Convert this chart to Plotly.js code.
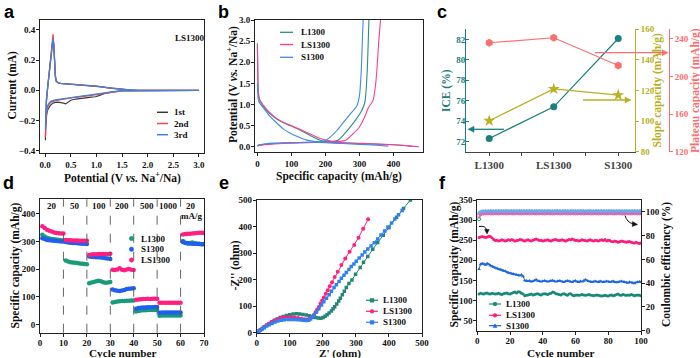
<!DOCTYPE html>
<html><head><meta charset="utf-8">
<script src="https://cdn.plot.ly/plotly-3.0.1.min.js"></script>
<style>html,body{margin:0;padding:0;background:#fff}#chart{width:700px;height:358px}</style>
</head><body><div id="chart"></div>
<script>
// ---------------- Panel a: CV of LS1300 ----------------
const cv1V = [3.0,2.5,2.0,1.7,1.5,1.3,1.15,1.05,0.98,0.9,0.8,0.7,0.6,0.5,0.44,0.4,0.36,0.3,0.25,0.2,0.15,0.1,0.07,0.05,0.03,0.02,0.01,0.005,0.008,0.015,0.025,0.05,0.08,0.11,0.135,0.155,0.17,0.185,0.2,0.215,0.25,0.3,0.5,0.7,0.9,1.1,1.3,1.5,1.7,2.2,3.0];
const cv1I = [0,0,0,0,-0.003,-0.012,-0.022,-0.035,-0.043,-0.045,-0.048,-0.053,-0.058,-0.066,-0.078,-0.09,-0.085,-0.08,-0.078,-0.08,-0.086,-0.1,-0.115,-0.13,-0.16,-0.2,-0.26,-0.33,-0.27,-0.15,-0.075,0.02,0.12,0.24,0.33,0.35,0.29,0.17,0.09,0.06,0.05,0.045,0.04,0.036,0.031,0.022,0.013,0.006,0.002,0,0];
const cvV23 = [3.0,2.5,2.0,1.7,1.5,1.3,1.1,1.0,0.8,0.6,0.45,0.3,0.2,0.12,0.08,0.05,0.03,0.015,0.005,0.008,0.015,0.025,0.05,0.08,0.11,0.135,0.155,0.17,0.185,0.2,0.215,0.25,0.3,0.5,0.8,1.0,1.2,1.4,1.6,1.8,2.2,2.6,3.0];
const cv2I = [0,0,0,0,-0.004,-0.013,-0.024,-0.03,-0.038,-0.046,-0.055,-0.062,-0.068,-0.078,-0.09,-0.11,-0.15,-0.21,-0.31,-0.25,-0.14,-0.07,0.02,0.13,0.25,0.35,0.37,0.29,0.17,0.09,0.06,0.05,0.045,0.04,0.033,0.027,0.018,0.009,0.003,0.0,0,0,0];
const cv3I = [0,0,0,0,-0.003,-0.011,-0.02,-0.026,-0.034,-0.041,-0.05,-0.057,-0.063,-0.072,-0.083,-0.1,-0.13,-0.18,-0.26,-0.21,-0.12,-0.06,0.02,0.12,0.23,0.32,0.34,0.3,0.18,0.1,0.065,0.052,0.046,0.041,0.034,0.028,0.019,0.01,0.004,0.001,0,0,0];
const cvNames = ['1st','2nd','3rd'];

// ---------------- Panel b: charge/discharge ----------------
const bL_disCap = [0,1,2,4,7,12,20,35,57,80,106,125,146,165,185,209,240,300,350,400,440,455];
const bL_disV   = [2.45,2.0,1.4,1.2,1.1,1.02,0.93,0.8,0.66,0.56,0.47,0.4,0.31,0.23,0.16,0.12,0.1,0.08,0.065,0.05,0.03,0.015];
const bLS_disCap = [0,1,2,4,7,12,20,35,57,80,106,125,146,165,185,209,240,300,350,400,440,475];
const bLS_disV   = [2.4,1.9,1.4,1.22,1.12,1.05,0.96,0.82,0.67,0.57,0.48,0.42,0.34,0.27,0.2,0.15,0.11,0.085,0.07,0.05,0.03,0.005];
const bS_disCap = [0,1,2,4,7,12,20,35,50,77,100,116,145,175,200,250,300,350,385];
const bS_disV   = [1.5,1.3,1.15,1.08,1.03,0.98,0.9,0.74,0.62,0.42,0.31,0.25,0.16,0.12,0.1,0.08,0.06,0.04,0.02];
const bL_chgCap = [0,5,20,50,100,150,200,220,237,255,272,290,306,316,321,324,326,328];
const bL_chgV   = [0.02,0.04,0.06,0.08,0.1,0.11,0.12,0.13,0.16,0.3,0.46,0.65,0.85,1.05,1.5,2.0,2.5,3.0];
const bLS_chgCap = [0,5,20,50,100,150,200,240,260,280,299,315,326,340,348,353,357,362];
const bLS_chgV   = [0.02,0.04,0.05,0.07,0.09,0.1,0.11,0.13,0.16,0.3,0.46,0.7,0.92,1.1,1.5,2.0,2.5,3.0];
const bS_chgCap = [0,5,20,50,100,150,180,200,214,235,253,272,292,300,304,307,309,311];
const bS_chgV   = [0.03,0.05,0.07,0.09,0.1,0.11,0.12,0.15,0.23,0.4,0.58,0.77,0.96,1.2,1.6,2.1,2.6,3.0];

// ---------------- Panel c ----------------
const samples = ['L1300','LS1300','S1300'];
const iceVals = [72.3,75.4,82.1];
const slopeVals = [100.2,121.0,117.0];
const plateauVals = [235.7,241.0,211.5];

// ---------------- Panel d: rate ----------------
const dL1300 = [325,318,314,311,309,308,307,306,305,304, 231,228,225,224,223,222,221,220,219,218, 149,152,154,156,158,156,153,151,152,154, 79,81,83,84,85,85,86,86,87,87, 47,49,50,51,51,52,52,52,52,53, 31,32,32,32,32,32,32,32,32,32, 302,296,295,295,297,294,293,292,290,291];
const dS1300 = [312,309,306,305,304,303,302,301,300,300, 298,297,296,295,295,294,293,292,292,291, 246,245,244,243,243,242,241,240,239,237, 126,124,122,121,123,125,128,129,130,131, 57,59,60,61,61,62,62,62,63,63, 42,43,43,43,43,43,43,43,43,43, 298,295,293,293,292,292,291,291,290,290];
const dLS1300 = [355,349,343,339,336,333,331,330,329,329, 306,305,305,304,304,304,303,303,303,303, 251,253,254,254,255,255,255,255,255,256, 198,197,199,203,198,196,199,201,198,197, 89,90,91,92,92,93,92,93,93,93, 78,78,78,78,78,78,78,78,78,78, 326,327,328,328,329,330,331,332,332,331];
const rateLabels = ['20','50','100','200','500','1000','20'];
const rateLabelCycles = [5,15,25,35,45.5,55,64.5];
const rateBoundaries = [10,20,30,40,50,60];

// ---------------- Panel e: EIS ----------------
const eL_re = [2,6,11,17,23,30,37,45,53,62,71,80,90,100,110,120,130,140,150,160,170,178,186,194,201,207,213,219,226,231,236,242,248,253,259,265,271,279,288,299,313,323,336,351,366,383,400,423,444,465];
const eL_im = [0,5,10,16,22,28,34,40,46,52,57,61,65,68,70,71,70,69,67,64,60,57,55,54,57,62,68,74,82,90,98,108,119,130,143,156,170,185,199,220,246,265,287,314,340,367,395,435,468,500];
const eLS_re = [2,6,11,17,23,30,38,46,55,64,74,84,95,105,115,125,135,143,150,157,163,168,173,178,183,188,193,198,203,209,215,221,228,236,245,256,268,281,295,308,322,337];
const eLS_im = [0,5,10,16,22,28,35,41,47,52,55,57,58,58,57,55,53,51,50,51,54,58,67,77,87,97,110,121,133,147,160,175,190,210,230,255,280,305,330,358,392,427];
const eS_re = [2,6,11,17,23,30,38,46,55,64,74,84,95,105,115,125,135,143,150,157,163,168,174,181,188,196,203,211,219,226,234,241,249,256,264,271,279,286,294,301,310,319,327,336,346,356,366,376,387,397,408,418,429,440];
const eS_im = [0,4,9,14,19,25,30,35,40,44,47,49,50,50,50,49,48,47,46,47,52,58,66,78,90,104,117,130,143,156,170,181,193,205,216,227,238,249,259,269,281,293,304,315,327,339,353,368,383,398,413,428,444,460];

// ---------------- Panel f: cycling ----------------
const fL1300 = [116,118,117,116,118,119,117,116,118,117, 116,117,118,116,115,117,118,119,117,116, 118,120,121,119,122,121,118,116,112,113, 114,115,116,114,115,116,117,115,114,116, 117,116,115,117,118,121,120,117,116,115, 114,116,117,115,113,116,117,114,112,113, 114,113,114,115,114,113,114,115,114,113, 112,113,114,113,112,111,112,113,112,111, 113,114,112,113,115,116,114,113,115,114, 113,114,113,115,114,112,113,114,113,112];
const fLS1300 = [257,258,259,258,257,258,260,259,256,252, 249,250,248,249,251,250,248,249,251,250, 252,250,248,249,250,252,251,249,248,250, 251,249,248,250,252,253,251,249,250,248, 249,250,251,249,248,250,251,252,250,249, 250,251,249,248,250,252,251,253,251,249, 250,248,249,251,250,249,248,250,251,249, 248,250,249,248,250,251,249,252,248,250, 249,247,246,248,247,245,246,248,247,246, 245,246,247,245,244,243,245,243,242,243];
const fS1300 = [178,190,192,191,189,192,190,187,185,183, 181,180,178,177,176,174,173,171,169,168, 167,166,165,164,163,162,164,160,150,149, 148,149,147,148,150,152,149,148,147,148, 149,148,147,148,149,150,148,147,148,149, 148,147,146,148,149,148,147,146,148,149, 147,146,148,147,149,152,150,148,147,146, 147,148,147,146,148,147,146,147,148,147, 146,147,148,146,145,146,147,148,147,146, 145,144,146,145,144,143,145,146,147,146];
const ceL1300 = [94.0,98.6,99.3,99.5,99.6,99.7,99.8,99.8,99.9,99.8, 99.9,99.8,99.9,100.0,99.9,99.8,99.9,100.0,99.9,99.9, 99.8,99.9,100.0,99.9,99.8,99.9,99.9,100.0,99.9,99.8, 99.9,100.0,99.9,99.9,99.8,99.9,100.0,99.9,99.9,99.8, 99.9,99.9,100.0,99.9,99.8,99.9,99.9,100.0,99.9,99.9, 99.8,99.9,100.0,99.9,99.9,99.8,99.9,100.0,99.9,99.9, 99.9,99.8,99.9,100.0,99.9,99.9,99.8,99.9,100.0,99.9, 99.9,99.8,99.9,99.9,100.0,99.9,99.8,99.9,99.9,100.0, 99.9,99.9,99.8,99.9,100.0,99.9,99.9,99.8,99.9,99.9, 100.0,99.9,99.8,99.9,99.9,100.0,99.9,99.9,99.8,99.9];
const ceLS1300 = [97.0,98.4,98.8,98.9,99.0,99.0,99.1,99.0,98.9,99.0, 99.1,99.0,98.9,99.0,99.1,99.0,99.0,98.9,99.0,99.1, 99.0,98.9,99.0,99.1,99.0,99.0,98.9,99.0,99.1,99.0, 99.0,98.9,99.0,99.1,99.0,98.9,99.0,99.0,99.1,99.0, 98.9,99.0,99.1,99.0,99.0,98.9,99.0,99.1,99.0,99.0, 98.9,99.0,99.1,99.0,98.9,99.0,99.0,99.1,99.0,98.9, 99.0,99.1,99.0,99.0,98.9,99.0,99.1,99.0,99.0,98.9, 99.0,99.1,99.0,98.9,99.0,99.0,99.1,99.0,98.9,99.0, 99.0,99.1,99.0,98.9,99.0,99.1,99.0,99.0,98.9,99.0, 99.1,99.0,99.0,98.9,99.0,99.1,99.0,98.9,99.0,99.0];
const ceS1300 = [99.2,100.2,100.4,100.5,100.6,100.5,100.6,100.7,100.6,100.5, 100.6,100.7,100.6,100.5,100.6,100.6,100.7,100.6,100.5,100.6, 100.7,100.6,100.5,100.6,100.6,100.7,100.6,100.5,100.6,100.7, 100.6,100.5,100.6,100.6,100.7,100.6,100.5,100.6,100.7,100.6, 100.6,100.5,100.6,100.7,100.6,100.6,100.5,100.6,100.7,100.6, 100.5,100.6,100.6,100.7,100.6,100.5,100.6,100.7,100.6,100.6, 100.5,100.6,100.7,100.6,100.6,100.5,100.6,100.7,100.6,100.5, 100.6,100.6,100.7,100.6,100.5,100.6,100.7,100.6,100.6,100.5, 100.6,100.7,100.6,100.5,100.6,100.6,100.7,100.6,100.5,100.6, 100.7,100.6,100.6,100.5,100.6,100.7,100.6,100.5,100.6,100.6];

// ---------------- styling ----------------
const W = 700, H = 358;
const M = {l: 20, r: 20, t: 20, b: 20};
const PW = W - M.l - M.r, PH = H - M.t - M.b;
const SERIF = 'Liberation Serif, Times New Roman, serif';
const SANS = 'Liberation Sans, Arial, sans-serif';
const C_ICE = '#1c8080', C_SLOPE = '#b9b022', C_PLAT = '#ff6e6e';
const px = v => (v - M.l) / PW, py = v => 1 - (v - M.t) / PH;
const cycD = dL1300.map((_, i) => i + 1);
const cycF = fL1300.map((_, i) => i + 1);

function ax(o) {
  const col = o.color || '#222';
  const a = {
    domain: o.domain, range: o.range, anchor: o.anchor, showline: true, linecolor: col, linewidth: 1,
    mirror: o.mirror === undefined ? true : o.mirror, ticks: o.ticks || 'outside', ticklen: 3, tickwidth: 1, tickcolor: col,
    showgrid: false, zeroline: false, automargin: false,
    tickfont: {family: SERIF, size: o.tfs || 9, weight: 'bold', color: o.color || '#111'}
  };
  ['dtick','tick0','tickformat','tickvals','ticktext','side','overlaying','position','tickmode','minor','ticklabelstandoff'].forEach(k => { if (o[k] !== undefined) a[k] = o[k]; });
  return a;
}

const traces = [];
// a
const cvColors = ['#3a3a3a', '#f0454d', '#3f82e0'];
traces.push({x: cv1V, y: cv1I, xaxis: 'x', yaxis: 'y', mode: 'lines', line: {color: cvColors[0], width: 1.2}});
traces.push({x: cvV23, y: cv2I, xaxis: 'x', yaxis: 'y', mode: 'lines', line: {color: cvColors[1], width: 1.3}});
traces.push({x: cvV23, y: cv3I, xaxis: 'x', yaxis: 'y', mode: 'lines', line: {color: cvColors[2], width: 1.3}});
// b
const bCols = ['#2a8f80', '#ff3d8e', '#3d8af5'];
[[bL_disCap, bL_disV, bL_chgCap, bL_chgV], [bLS_disCap, bLS_disV, bLS_chgCap, bLS_chgV], [bS_disCap, bS_disV, bS_chgCap, bS_chgV]].forEach((s, i) => {
  traces.push({x: s[0], y: s[1], xaxis: 'x2', yaxis: 'y2', mode: 'lines', line: {color: bCols[i], width: 1.1, shape: 'spline', smoothing: 0.6}});
  traces.push({x: s[2], y: s[3], xaxis: 'x2', yaxis: 'y2', mode: 'lines', line: {color: bCols[i], width: 1.1, shape: 'spline', smoothing: 0.6}});
});
// c
const cx = [0, 1, 2];
traces.push({x: cx, y: plateauVals, xaxis: 'x3', yaxis: 'y5', mode: 'lines+markers', line: {color: C_PLAT, width: 1.2}, marker: {symbol: 'hexagon', size: 8, color: C_PLAT}});
traces.push({x: cx, y: slopeVals, xaxis: 'x3', yaxis: 'y4', mode: 'lines+markers', line: {color: C_SLOPE, width: 1.2}, marker: {symbol: 'star', size: 9, color: C_SLOPE}});
traces.push({x: cx, y: iceVals, xaxis: 'x3', yaxis: 'y3', mode: 'lines+markers', line: {color: C_ICE, width: 1.2}, marker: {symbol: 'circle', size: 7, color: C_ICE}});
// d
const dCols = ['#169c78', '#1f5ff0', '#ff1f80'];
[dL1300, dS1300, dLS1300].forEach((s, i) => traces.push({x: cycD, y: s, xaxis: 'x4', yaxis: 'y6', mode: 'markers', marker: {size: 4.5, color: dCols[i]}}));
// e
const eCols = ['#22877a', '#ff2080', '#2f80f0'];
traces.push({x: eL_re, y: eL_im, xaxis: 'x5', yaxis: 'y7', mode: 'lines+markers', line: {color: eCols[0], width: 1}, marker: {symbol: 'square', size: 3.5, color: eCols[0]}});
traces.push({x: eLS_re, y: eLS_im, xaxis: 'x5', yaxis: 'y7', mode: 'lines+markers', line: {color: eCols[1], width: 1}, marker: {symbol: 'circle', size: 4, color: eCols[1]}});
traces.push({x: eS_re, y: eS_im, xaxis: 'x5', yaxis: 'y7', mode: 'lines+markers', line: {color: eCols[2], width: 1}, marker: {symbol: 'square', size: 3.5, color: eCols[2]}});
// f
const fCols = ['#17897a', '#ff1a7c', '#1e66e0'];
traces.push({x: cycF, y: ceL1300, xaxis: 'x6', yaxis: 'y9', mode: 'lines+markers', line: {color: '#2aa08e', width: 0.8}, marker: {symbol: 'circle-open', size: 3.5, color: '#2aa08e'}});
traces.push({x: cycF, y: ceLS1300, xaxis: 'x6', yaxis: 'y9', mode: 'lines+markers', line: {color: '#ff5aa8', width: 0.8}, marker: {symbol: 'circle-open', size: 3.5, color: '#ff5aa8'}});
traces.push({x: cycF, y: ceS1300, xaxis: 'x6', yaxis: 'y9', mode: 'lines+markers', line: {color: '#6aaaf5', width: 0.8}, marker: {symbol: 'triangle-up-open', size: 3.5, color: '#6aaaf5'}});
traces.push({x: cycF, y: fL1300, xaxis: 'x6', yaxis: 'y8', mode: 'lines+markers', line: {color: fCols[0], width: 1}, marker: {symbol: 'circle', size: 3, color: fCols[0]}});
traces.push({x: cycF, y: fLS1300, xaxis: 'x6', yaxis: 'y8', mode: 'lines+markers', line: {color: fCols[1], width: 1}, marker: {symbol: 'circle', size: 3, color: fCols[1]}});
traces.push({x: cycF, y: fS1300, xaxis: 'x6', yaxis: 'y8', mode: 'lines+markers', line: {color: fCols[2], width: 1}, marker: {symbol: 'triangle-up', size: 3.5, color: fCols[2]}});

const layout = {
  width: W, height: H, margin: M, paper_bgcolor: '#fff', plot_bgcolor: 'rgba(0,0,0,0)', showlegend: false,
  font: {family: SERIF},
  xaxis: ax({domain: [px(40), px(204)], range: [-0.1, 3.1], anchor: 'y', dtick: 0.5, tickformat: '.1f'}),
  yaxis: ax({domain: [py(153), py(17)], range: [-0.415, 0.465], anchor: 'x', dtick: 0.2, tickformat: '.1f', ticklabelstandoff: -1}),
  xaxis2: ax({domain: [px(255), px(423)], range: [-7, 487], anchor: 'y2', dtick: 100}),
  yaxis2: ax({domain: [py(152), py(17)], range: [-0.12, 3.0], anchor: 'x2', dtick: 0.5, tickformat: '.1f', ticklabelstandoff: -1}),
  xaxis3: ax({domain: [px(466), px(635)], range: [-0.36, 2.26], anchor: 'y3', mirror: false, color: '#444', tickvals: [0, 1, 2], ticktext: samples, tfs: 11, minor: {tickvals: [0.5, 1.5], ticks: 'outside', ticklen: 3, tickcolor: '#444'}}),
  yaxis3: ax({domain: [py(151.7), py(29.3)], range: [71, 83], anchor: 'x3', mirror: false, color: C_ICE, dtick: 2, ticks: 'inside', ticklabelstandoff: -2}),
  yaxis4: ax({range: [80, 160], anchor: 'x3', overlaying: 'y3', side: 'right', mirror: false, color: C_SLOPE, dtick: 20}),
  yaxis5: ax({range: [120, 250], anchor: 'free', overlaying: 'y3', side: 'right', position: px(669), mirror: false, color: C_PLAT, tickvals: [120, 160, 200, 240]}),
  xaxis4: ax({domain: [px(40), px(204)], range: [0, 70], anchor: 'y6', dtick: 10, ticklabelstandoff: -2}),
  yaxis6: ax({domain: [py(332.7), py(199.3)], range: [-30, 453], anchor: 'x4', dtick: 100, ticklabelstandoff: -1}),
  xaxis5: ax({domain: [px(256.7), px(422)], range: [0, 500], anchor: 'y7', dtick: 100, ticklabelstandoff: -2}),
  yaxis7: ax({domain: [py(332.7), py(200)], range: [0, 500], anchor: 'x5', dtick: 100, ticklabelstandoff: -1}),
  xaxis6: ax({domain: [px(477.3), px(641)], range: [0, 100], anchor: 'y8', dtick: 20, ticklabelstandoff: -2}),
  yaxis8: ax({domain: [py(330.7), py(200)], range: [25, 350], anchor: 'x6', mirror: false, tickvals: [50, 100, 150, 200, 250, 300, 350], ticklabelstandoff: -1}),
  yaxis9: ax({range: [0, 110], anchor: 'x6', overlaying: 'y8', side: 'right', mirror: false, tickvals: [0, 20, 40, 60, 80, 100], ticklabelstandoff: -1}),
  shapes: [], annotations: []
};

// axis titles as annotations: [text, x px, y px, angle, colour, size]
const potTitle = 'Potential (V <i>vs.</i> Na<sup>+</sup>/Na)';
const axisTitles = [
  [potTitle, 122, 177, 0, '#111', 11.5], ['Current (mA)', 11.5, 85, -90, '#111', 11.5],
  ['Specific capacity (mAh/g)', 339, 176, 0, '#111', 11.5], [potTitle, 232.5, 84.5, -90, '#111', 11.5],
  ['ICE (%)', 446.5, 90.5, -90, C_ICE, 11.5], ['Slope capacity (mAh/g)', 657, 90.5, -90, C_SLOPE, 11.5], ['Plateau capacity (mAh/g)', 695.5, 90.5, -90, C_PLAT, 11.5],
  ['Cycle number', 122, 353, 0, '#111', 11.2], ['Specific capacity (mAh/g)', 14.5, 266, -90, '#111', 11.5],
  ["Z' (ohm)", 340, 353, 0, '#111', 11.2], ["-Z'' (ohm)", 234.5, 266, -90, '#111', 11.5],
  ['Cycle number', 560, 352.5, 0, '#111', 11.2], ['Specific capacity (mAh/g)', 453.5, 265, -90, '#111', 11.5], ['Coulombic efficiency (%)', 666, 265, -90, '#111', 11.5]
];
axisTitles.forEach(t => layout.annotations.push({xref: 'paper', yref: 'paper', x: px(t[1]), y: py(t[2]), xanchor: 'center', yanchor: 'middle', textangle: t[3], text: t[0], showarrow: false, font: {family: SERIF, size: t[5], weight: 'bold', color: t[4]}}));

// dashed rate boundaries in d
rateBoundaries.forEach(c => layout.shapes.push({type: 'line', xref: 'x4', yref: 'y6 domain', x0: c, x1: c, y0: 0, y1: 1, line: {color: '#555', width: 0.9, dash: 'dash'}}));
rateLabels.forEach((t, i) => layout.annotations.push({xref: 'x4', yref: 'y6', x: rateLabelCycles[i], y: 429, text: t, showarrow: false, font: {family: SERIF, size: 9, weight: 'bold', color: '#111'}}));
layout.annotations.push({xref: 'x4', yref: 'y6', x: 64.5, y: 393, text: 'mA/g', showarrow: false, font: {family: SERIF, size: 9, weight: 'bold', color: '#111'}});

// panel letters
const letters = [['a', 2, 0], ['b', 216, 0], ['c', 435, 0], ['d', 1, 171], ['e', 217, 171], ['f', 437, 171]];
letters.forEach(l => layout.annotations.push({xref: 'paper', yref: 'paper', x: px(l[1]), y: py(l[2]), xanchor: 'left', yanchor: 'top', text: l[0], showarrow: false, font: {family: SANS, size: 18, weight: 'bold', color: '#000'}}));

// text in a
layout.annotations.push({xref: 'paper', yref: 'paper', x: px(173), y: py(31), text: 'LS1300', showarrow: false, font: {family: SERIF, size: 9, weight: 'bold', color: '#111'}});

// manual legends
function legText(x, y, t) { layout.annotations.push({xref: 'paper', yref: 'paper', x: px(x), y: py(y), xanchor: 'left', yanchor: 'middle', text: t, showarrow: false, font: {family: SERIF, size: 9, weight: 'bold', color: '#111'}}); }
function legLine(x0, x1, y, c, w) { layout.shapes.push({type: 'line', xref: 'paper', yref: 'paper', x0: px(x0), x1: px(x1), y0: py(y), y1: py(y), line: {color: c, width: w || 1.3}}); }
function pathOf(pts, close) { return pts.map((p, i) => (i ? 'L ' : 'M ') + px(p[0]) + ' ' + py(p[1])).join(' ') + (close ? ' Z' : ''); }
function legMark(cx, cy, r, c, sym) {
  if (sym === 'circle') layout.shapes.push({type: 'circle', xref: 'paper', yref: 'paper', x0: px(cx - r), x1: px(cx + r), y0: py(cy + r), y1: py(cy - r), fillcolor: c, line: {color: c, width: 0.5}});
  else if (sym === 'square') layout.shapes.push({type: 'rect', xref: 'paper', yref: 'paper', x0: px(cx - r), x1: px(cx + r), y0: py(cy + r), y1: py(cy - r), fillcolor: c, line: {color: c, width: 0.5}});
  else layout.shapes.push({type: 'path', xref: 'paper', yref: 'paper', path: pathOf([[cx - r, cy + r], [cx + r, cy + r], [cx, cy - r]], true), fillcolor: c, line: {color: c, width: 0.5}});
}
[112.3, 123.5, 134.7].forEach((y, i) => { legLine(157, 168, y, cvColors[i], 1.5); legText(172, y, cvNames[i]); });
const bNames = ['L1300', 'LS1300', 'S1300'];
[32.3, 44.5, 57.3].forEach((y, i) => { legLine(280, 293, y, bCols[i], 1.3); legText(299, y, bNames[i]); });
const dNames = ['L1300', 'S1300', 'LS1300'];
[238.5, 249.3, 260].forEach((y, i) => { legMark(131.5, y, 2.2, dCols[i], 'circle'); legText(139, y, dNames[i]); });
const eNames = ['L1300', 'LS1300', 'S1300'];
const eSyms = ['square', 'circle', 'square'];
[300.3, 311.3, 322.3].forEach((y, i) => { legLine(366, 378, y, eCols[i], 1.2); legMark(372, y, 1.9, eCols[i], eSyms[i]); legText(381, y, eNames[i]); });
const fNames = ['L1300', 'LS1300', 'S1300'];
const fSyms = ['circle', 'circle', 'triangle'];
[304, 315.3, 325.7].forEach((y, i) => { legLine(489, 501, y, fCols[i], 1.2); legMark(495, y, 1.9, fCols[i], fSyms[i]); legText(504, y, fNames[i]); });

// arrows drawn as shapes (line + head)
function hArrow(x0, x1, y, c) {
  const dir = x1 > x0 ? 1 : -1;
  layout.shapes.push({type: 'line', xref: 'paper', yref: 'paper', x0: px(x0), x1: px(x1 - dir * 5), y0: py(y), y1: py(y), line: {color: c, width: 1.3}});
  layout.shapes.push({type: 'path', xref: 'paper', yref: 'paper', path: pathOf([[x1, y], [x1 - dir * 6, y - 3], [x1 - dir * 6, y + 3]], true), fillcolor: c, line: {color: c, width: 0.5}});
}
hArrow(504, 468, 129.3, C_ICE);
hArrow(583, 631, 100, C_SLOPE);
hArrow(595, 668, 52.7, C_PLAT);
layout.shapes.push({type: 'path', xref: 'paper', yref: 'paper', path: `M ${px(479)} ${py(226.5)} Q ${px(485.5)} ${py(225.3)} ${px(486.6)} ${py(230)}`, line: {color: '#111', width: 1}});
layout.shapes.push({type: 'path', xref: 'paper', yref: 'paper', path: pathOf([[487, 234], [484.6, 229.6], [489.2, 229.4]], true), fillcolor: '#111', line: {color: '#111', width: 0.5}});
layout.shapes.push({type: 'path', xref: 'paper', yref: 'paper', path: `M ${px(625)} ${py(215.5)} Q ${px(627)} ${py(222.5)} ${px(633)} ${py(223.8)}`, line: {color: '#111', width: 1}});
layout.shapes.push({type: 'path', xref: 'paper', yref: 'paper', path: pathOf([[637.5, 224.6], [632.6, 221.6], [632.2, 226.4]], true), fillcolor: '#111', line: {color: '#111', width: 0.5}});

Plotly.newPlot('chart', traces, layout, {displayModeBar: false, staticPlot: true});
</script></body></html>
